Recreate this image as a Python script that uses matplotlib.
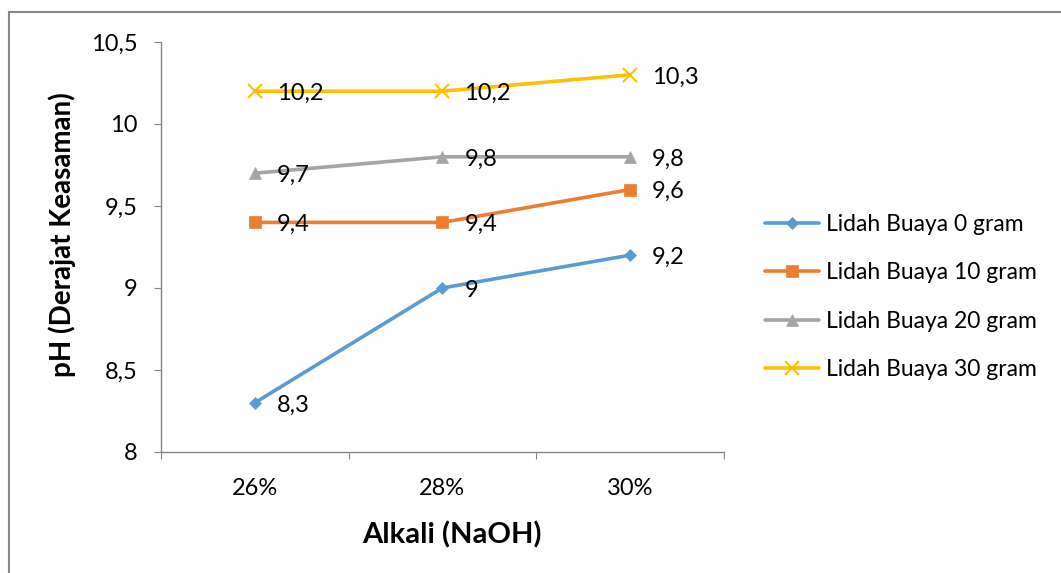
import matplotlib
matplotlib.use("Agg")
import matplotlib.pyplot as plt
from matplotlib.patches import Rectangle

# Data
categories = ["26%", "28%", "30%"]
series_names = ["Lidah Buaya 0 gram", "Lidah Buaya 10 gram",
                "Lidah Buaya 20 gram", "Lidah Buaya 30 gram"]
ph_0g = [8.3, 9.0, 9.2]
ph_10g = [9.4, 9.4, 9.6]
ph_20g = [9.7, 9.8, 9.8]
ph_30g = [10.2, 10.2, 10.3]
y_ticks = [8, 8.5, 9, 9.5, 10, 10.5]

series = [ph_0g, ph_10g, ph_20g, ph_30g]
colors = ["#5B9BD5", "#ED7D31", "#A5A5A5", "#FFC000"]
markers = ["D", "s", "^", "x"]
msizes = [6, 9, 8, 10]

plt.rcParams["font.family"] = ["Lato", "DejaVu Sans"]

W, H = 1061, 573
fig = plt.figure(figsize=(W / 100, H / 100), dpi=100)
ax = fig.add_axes([161 / W, 1 - 452 / H, (723.5 - 161) / W, (452 - 42) / H])

x = [1, 2, 3]
for vals, name, c, m, ms in zip(series, series_names, colors, markers, msizes):
    ax.plot(x, vals, color=c, lw=2.6, marker=m, markersize=ms,
            markeredgewidth=1.5 if m == "x" else 0.5, markeredgecolor=c,
            label=name, solid_capstyle="round")
    for xi, v in zip(x, vals):
        ax.annotate(f"{v:g}".replace(".", ","), (xi, v), xytext=(16, -1.5),
                    textcoords="offset points", ha="left", va="center",
                    fontsize=17, color="black")

ax.set_xlim(0.5, 3.5)
ax.set_ylim(8, 10.5)
ax.set_yticks(y_ticks)
ax.set_yticklabels([f"{t:g}".replace(".", ",") for t in y_ticks])
ax.set_xticks([0.5, 1.5, 2.5, 3.5])
ax.set_xticklabels([])
ax.set_xticks(x, minor=True)
ax.set_xticklabels(categories, minor=True)

for s in ["top", "right"]:
    ax.spines[s].set_visible(False)
for s in ["left", "bottom"]:
    ax.spines[s].set_color("#868686")
    ax.spines[s].set_linewidth(1.0)

ax.tick_params(axis="y", which="major", length=5, color="#868686",
               labelsize=17, pad=12)
ax.tick_params(axis="x", which="major", length=5, color="#868686")
ax.tick_params(axis="x", which="minor", length=0, labelsize=17, pad=19)

ax.set_ylabel("pH (Derajat Keasaman)", fontsize=20, fontweight="bold")
ax.yaxis.set_label_coords(-0.152, 0.53)
ax.set_xlabel("Alkali (NaOH)", fontsize=21, fontweight="bold")
ax.xaxis.set_label_coords(0.517, -0.168)

fig.legend(loc="center left", bbox_to_anchor=(765 / W, 1 - 297 / H),
           frameon=False, fontsize=16.5, handlelength=2.35, labelspacing=1.2,
           handletextpad=0.3, borderpad=0, borderaxespad=0)

# Outer chart border
fig.patches.append(Rectangle((9 / W, -0.02), 1.1, (H - 12) / H + 0.02,
                             transform=fig.transFigure, fill=False,
                             edgecolor="#898989", lw=1.5))

fig.savefig("out.png", dpi=100)
